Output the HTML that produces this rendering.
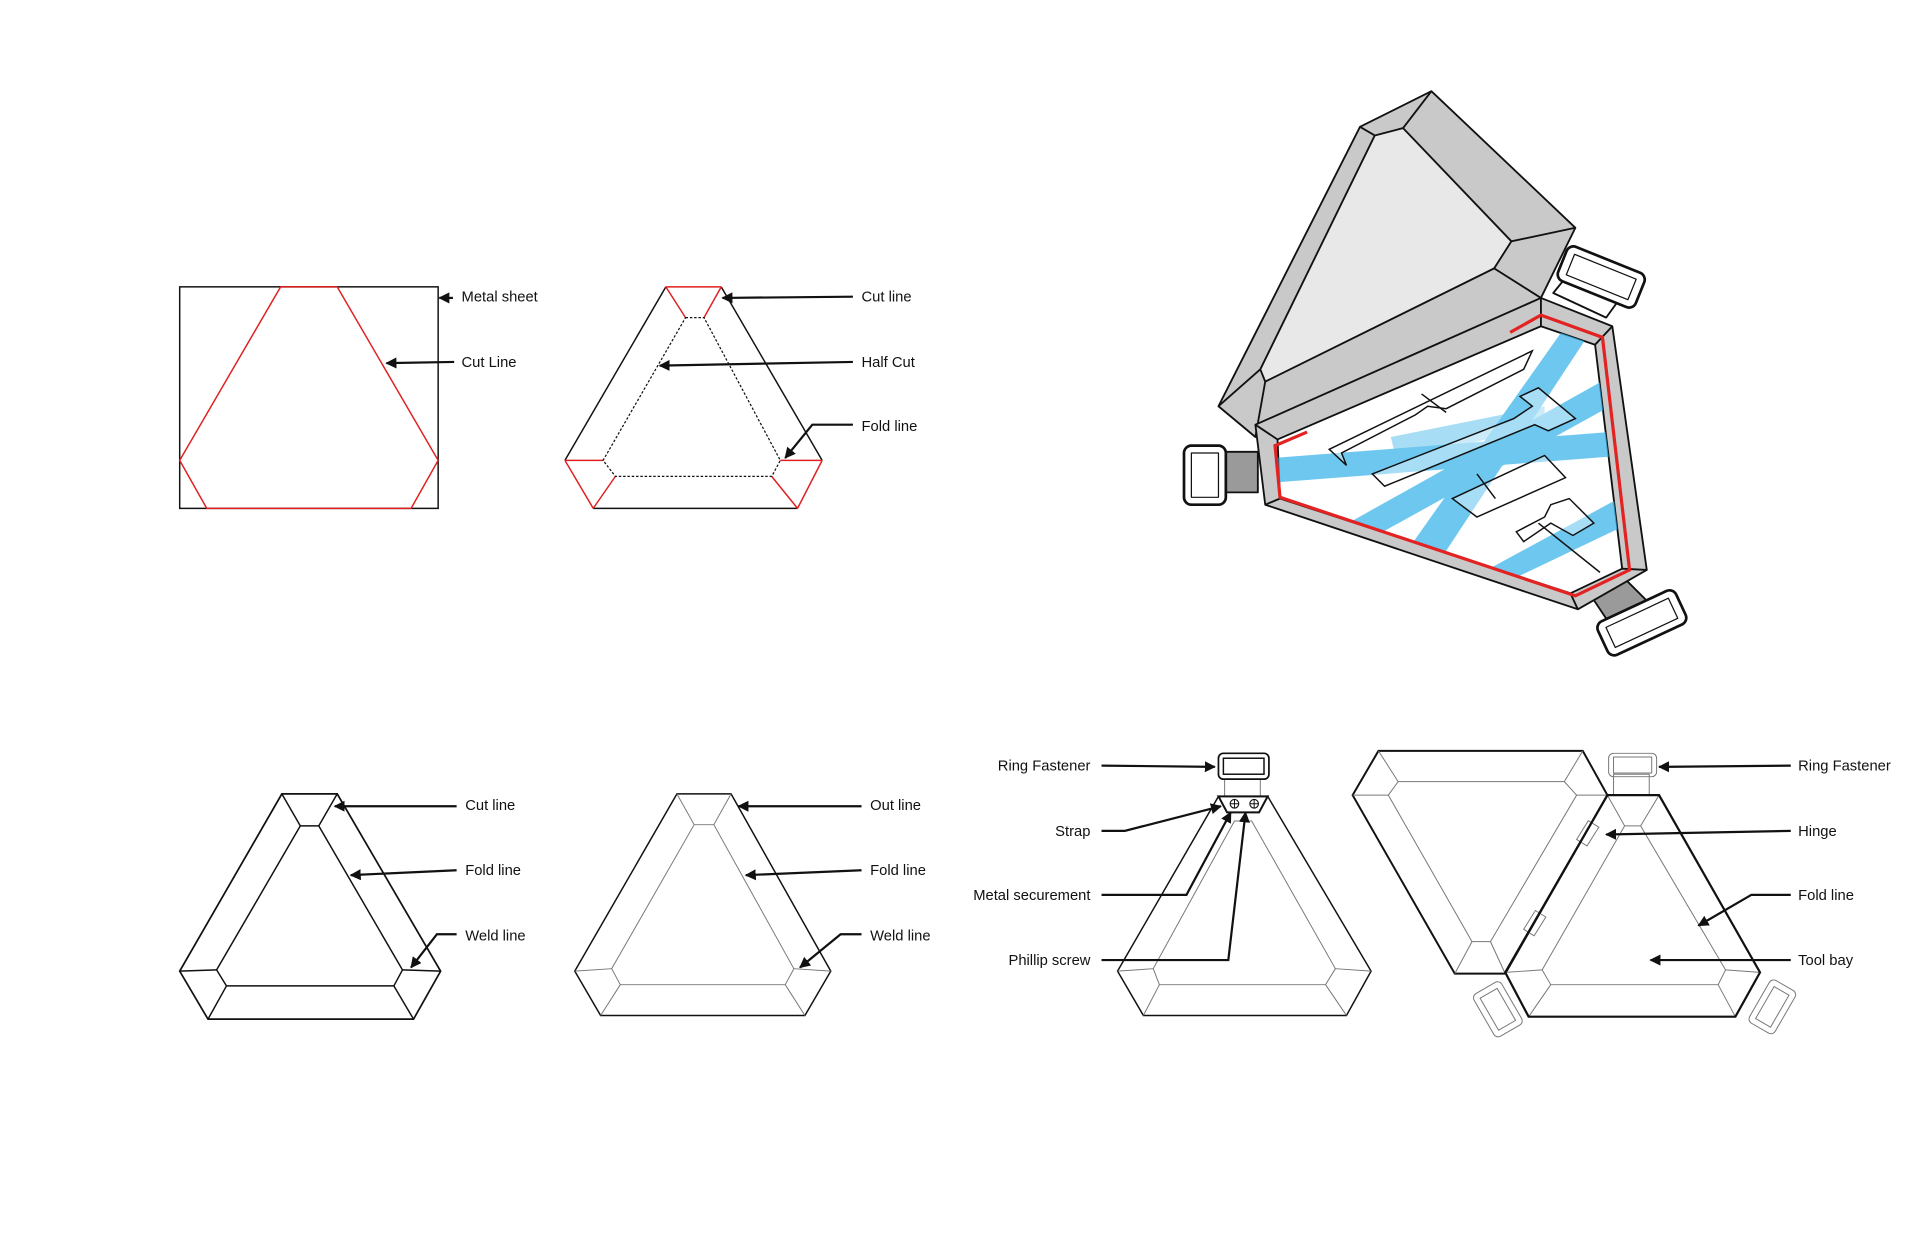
<!DOCTYPE html>
<html><head><meta charset="utf-8"><style>
html,body{margin:0;padding:0;background:#fff;}
svg{display:block}
text{font-family:"Liberation Sans",sans-serif;font-size:12px;fill:#111}
</style></head><body>
<svg width="1920" height="1242" viewBox="0 0 1560 1009" xmlns="http://www.w3.org/2000/svg">
<defs>
<marker id="ar" viewBox="0 0 10 10" refX="9" refY="5" markerWidth="5" markerHeight="5" orient="auto"><path d="M0,0 L10,5 L0,10 z" fill="#111"/></marker>
<clipPath id="trayclip"><polygon points="1038,357 1252,265 1296,280 1318,462 1276,482 1040,405"/></clipPath>
</defs>
<g fill="none" stroke="#111" stroke-width="1.2">
<rect x="146" y="233" width="210" height="180"/>
<polygon points="228,233 274,233 356,374 334,413 168,413 146,374" stroke="#e02020"/>
<polyline points="541,233 459,374"/><polyline points="586,233 668,374"/><line x1="482" y1="413" x2="648" y2="413"/>
<g stroke="#e02020"><line x1="541" y1="233" x2="586" y2="233"/><line x1="541" y1="233" x2="557" y2="258"/><line x1="586" y1="233" x2="572" y2="258"/>
<line x1="459" y1="374" x2="490" y2="374"/><line x1="459" y1="374" x2="482" y2="413"/><line x1="482" y1="413" x2="500" y2="387"/>
<line x1="668" y1="374" x2="634" y2="374"/><line x1="668" y1="374" x2="648" y2="413"/><line x1="648" y1="413" x2="627" y2="387"/></g>
<polygon points="557,258 572,258 634,374 627,387 500,387 490,374" stroke-dasharray="2,1.5" stroke-width="1"/>
<polygon points="229,645 274,645 358,789 336,828 169,828 146,789" stroke-width="1.4"/>
<polygon points="244,671 259,671 327,788 320,801 184,801 176,788"/>
<line x1="229" y1="645" x2="244" y2="671"/><line x1="274" y1="645" x2="259" y2="671"/>
<line x1="146" y1="789" x2="176" y2="788"/><line x1="358" y1="789" x2="327" y2="788"/>
<line x1="169" y1="828" x2="184" y2="801"/><line x1="336" y1="828" x2="320" y2="801"/>
<polygon points="550,645 594,645 675,789 654,825 488,825 467,789"/>
<g stroke="#777" stroke-width="0.8">
<polygon points="564,670 580,670 645,787 638,800 504,800 497,787"/>
<line x1="550" y1="645" x2="564" y2="670"/><line x1="594" y1="645" x2="580" y2="670"/>
<line x1="467" y1="789" x2="497" y2="787"/><line x1="675" y1="789" x2="645" y2="787"/>
<line x1="488" y1="825" x2="504" y2="800"/><line x1="654" y1="825" x2="638" y2="800"/></g>
<polygon points="990,647 1030,647 1114,789 1094,825 929,825 908,789"/>
<g stroke="#777" stroke-width="0.8">
<polygon points="1003,667 1017,667 1085,787 1077,800 942,800 937,787"/>
<line x1="908" y1="789" x2="937" y2="787"/><line x1="1114" y1="789" x2="1085" y2="787"/>
<line x1="929" y1="825" x2="942" y2="800"/><line x1="1094" y1="825" x2="1077" y2="800"/>
<rect x="995" y="633" width="29" height="14"/></g>
<rect x="990" y="612" width="41" height="21" rx="4" stroke-width="1.4"/>
<rect x="994" y="616" width="33" height="13"/>
<polygon points="990,647 1030,647 1023,660 997,660" stroke-width="1.6"/>
<circle cx="1003" cy="653" r="3.5" stroke-width="0.9"/><path d="M999.5,653h7M1003,649.5v7" stroke-width="0.8"/>
<circle cx="1019" cy="653" r="3.5" stroke-width="0.9"/><path d="M1015.5,653h7M1019,649.5v7" stroke-width="0.8"/>
<polygon points="1120,610 1286,610 1306,646 1223,791 1182,791 1099,646" stroke-width="1.6"/>
<g stroke="#777" stroke-width="0.8">
<polygon points="1136,635 1271,635 1281,646 1211,765 1196,765 1128,646"/>
<line x1="1120" y1="610" x2="1136" y2="635"/><line x1="1286" y1="610" x2="1271" y2="635"/>
<line x1="1099" y1="646" x2="1128" y2="646"/><line x1="1306" y1="646" x2="1281" y2="646"/>
<line x1="1182" y1="791" x2="1196" y2="765"/><line x1="1223" y1="791" x2="1211" y2="765"/>
<polygon points="1320,671 1333,671 1402,788 1396,800 1260,800 1253,788"/>
<line x1="1306" y1="646" x2="1320" y2="671"/><line x1="1348" y1="646" x2="1333" y2="671"/>
<line x1="1223" y1="790" x2="1253" y2="788"/><line x1="1430" y1="790" x2="1402" y2="788"/>
<line x1="1242" y1="826" x2="1260" y2="800"/><line x1="1410" y1="826" x2="1396" y2="800"/>
<rect x="1311" y="629" width="29" height="17"/>
<rect x="1307" y="612" width="39" height="19" rx="4"/><rect x="1311" y="615" width="31" height="13"/>
<rect x="-5" y="-9" width="10" height="18" transform="translate(1290,677) rotate(32)"/>
<rect x="-5" y="-9" width="10" height="18" transform="translate(1247,750) rotate(32)"/>
<g transform="translate(1217,820) rotate(-30)"><rect x="-13" y="-20" width="26" height="40" rx="4"/><rect x="-8" y="-15" width="16" height="30"/></g>
<g transform="translate(1440,818) rotate(30)"><rect x="-12" y="-20" width="24" height="40" rx="4"/><rect x="-7" y="-15" width="14" height="30"/></g>
</g>
<polygon points="1306,646 1348,646 1430,790 1410,826 1242,826 1223,790" stroke-width="1.8"/>
</g>

<g stroke="#111" stroke-width="1.5" stroke-linejoin="round">
<polygon points="1105,103 1163,74 1280,185 1252,242 1020,355 990,330" fill="#c9c9c9"/>
<polygon points="1117,110 1140,104 1228,196 1214,218 1028,310 1024,300" fill="#e8e8e8"/>
<line x1="1105" y1="103" x2="1117" y2="110"/><line x1="1163" y1="74" x2="1140" y2="104"/>
<line x1="1280" y1="185" x2="1228" y2="196"/><line x1="1252" y1="242" x2="1214" y2="218"/>
<line x1="1020" y1="355" x2="1028" y2="310"/><line x1="990" y1="330" x2="1024" y2="300"/>
<rect x="990" y="367" width="32" height="33" fill="#9a9a9a"/>
<rect x="962" y="362" width="34" height="48" rx="6" fill="#fff" stroke-width="2.2"/>
<rect x="968" y="368" width="22" height="36" fill="#fff" stroke-width="1"/>
<polygon points="1262,238 1275,222 1318,240 1305,258" fill="#fff"/>
<g transform="translate(1301,225) rotate(22)"><rect x="-34" y="-15" width="68" height="30" rx="6" fill="#fff" stroke-width="2.2"/><rect x="-27" y="-9" width="54" height="18" fill="#fff" stroke-width="1"/></g>
<polygon points="1290,480 1320,470 1345,495 1310,510" fill="#9a9a9a"/>
<g transform="translate(1334,506) rotate(-25)"><rect x="-35" y="-15" width="70" height="30" rx="6" fill="#fff" stroke-width="2.2"/><rect x="-28" y="-9" width="56" height="18" fill="#fff" stroke-width="1"/></g>
<polygon points="1020,345 1252,242 1310,265 1338,463 1282,495 1028,410" fill="#c9c9c9"/>
<polygon points="1038,357 1252,265 1296,280 1318,462 1276,482 1040,405" fill="#fff"/>
<line x1="1020" y1="345" x2="1038" y2="357"/><line x1="1252" y1="242" x2="1252" y2="265"/>
<line x1="1310" y1="265" x2="1296" y2="280"/><line x1="1338" y1="463" x2="1318" y2="462"/>
<line x1="1282" y1="495" x2="1276" y2="482"/><line x1="1028" y1="410" x2="1040" y2="405"/>
</g>
<g clip-path="url(#trayclip)" fill="#3db4e8" opacity="0.75">
<polygon points="1035,372 1320,350 1320,370 1035,392"/>
<polygon points="1090,428 1310,305 1312,328 1100,445"/>
<polygon points="1145,445 1272,265 1292,270 1170,455"/>
<polygon points="1210,462 1315,405 1318,428 1230,470"/>
<polygon points="1130,355 1255,330 1255,345 1135,375" opacity="0.6"/>
</g>
<g fill="#fff" fill-opacity="0.4" stroke="#111" stroke-width="1.2">
<polygon points="1080,365 1245,285 1238,300 1175,332 1160,330 1150,337 1090,368 1094,378"/>
<polygon points="1115,385 1230,340 1245,330 1235,322 1250,315 1280,340 1258,350 1247,345 1125,395"/>
<polygon points="1180,405 1255,370 1272,388 1200,420"/>
<polygon points="1232,432 1255,420 1260,410 1275,405 1295,425 1278,435 1260,425 1238,440"/>
<line x1="1155" y1="320" x2="1175" y2="335"/><line x1="1200" y1="385" x2="1215" y2="405"/><line x1="1250" y1="425" x2="1300" y2="465"/>
</g>
<polyline points="1227,270 1252,256 1302,274 1324,463 1280,484 1040,404 1036,362 1062,351" fill="none" stroke="#e32222" stroke-width="2.6"/>

<g fill="none" stroke="#111" stroke-width="1.8" marker-end="url(#ar)">
<line x1="368" y1="242" x2="357" y2="242"/>
<line x1="369" y1="294" x2="314" y2="295"/>
<line x1="693" y1="241" x2="587" y2="242"/>
<line x1="693" y1="294" x2="536" y2="297"/>
<polyline points="693,345 660,345 638,372"/>
<line x1="371" y1="655" x2="272" y2="655"/>
<line x1="371" y1="707" x2="285" y2="711"/>
<polyline points="371,759 355,759 334,786"/>
<line x1="700" y1="655" x2="600" y2="655"/>
<line x1="700" y1="707" x2="606" y2="711"/>
<polyline points="700,759 683,759 650,786"/>
<line x1="895" y1="622" x2="987" y2="623"/>
<polyline points="895,675 914,675 992,655"/>
<polyline points="895,727 964,727 1000,660"/>
<polyline points="895,780 998,780 1012,660"/>
<line x1="1455" y1="622" x2="1348" y2="623"/>
<line x1="1455" y1="675" x2="1305" y2="678"/>
<polyline points="1455,727 1423,727 1380,752"/>
<line x1="1455" y1="780" x2="1341" y2="780"/>
</g>
<g>
<text x="375" y="245">Metal sheet</text>
<text x="375" y="298">Cut Line</text>
<text x="700" y="245">Cut line</text>
<text x="700" y="298">Half Cut</text>
<text x="700" y="350">Fold line</text>
<text x="378" y="658">Cut line</text>
<text x="378" y="711">Fold line</text>
<text x="378" y="764">Weld line</text>
<text x="707" y="658">Out line</text>
<text x="707" y="711">Fold line</text>
<text x="707" y="764">Weld line</text>
<g text-anchor="end">
<text x="886" y="626">Ring Fastener</text>
<text x="886" y="679">Strap</text>
<text x="886" y="731">Metal securement</text>
<text x="886" y="784">Phillip screw</text>
</g>
<text x="1461" y="626">Ring Fastener</text>
<text x="1461" y="679">Hinge</text>
<text x="1461" y="731">Fold line</text>
<text x="1461" y="784">Tool bay</text>
</g>
</svg>
</body></html>
